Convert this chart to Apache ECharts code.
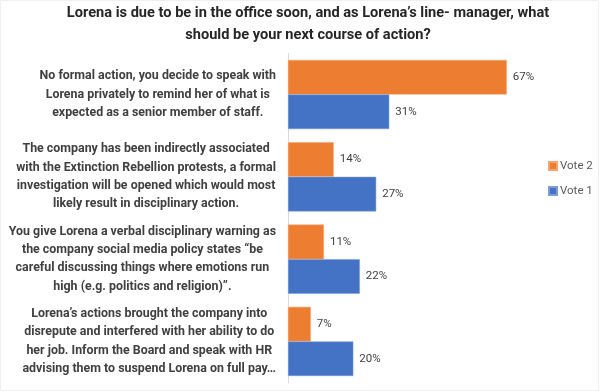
<!DOCTYPE html>
<html>
<head>
<meta charset="utf-8">
<script src="https://cdn.jsdelivr.net/npm/echarts@6/dist/echarts.min.js"></script>
<style>html,body{margin:0;padding:0;background:#fff;}#c{width:600px;height:392px;}</style>
</head>
<body>
<div id="c"></div>
<script>
const titleText = "Lorena is due to be in the office soon, and as Lorena\u2019s line- manager, what\nshould be your next course of action?";
const categories = [
  "No formal action, you decide to speak with\nLorena privately to remind her of what is\nexpected as a senior member of staff.",
  "The company has been indirectly associated\nwith the Extinction Rebellion protests, a formal\ninvestigation will be opened which would most\nlikely result in disciplinary action.",
  "You give Lorena a verbal disciplinary warning as\nthe company social media policy states \u201cbe\ncareful discussing things where emotions run\nhigh (e.g. politics and religion)\u201d.",
  "Lorena\u2019s actions brought the company into\ndisrepute and interfered with her ability to do\nher job. Inform the Board and speak with HR\nadvising them to suspend Lorena on full pay\u2026"
];
const seriesNames = ["Vote 2", "Vote 1"];
const vote2 = [67, 14, 11, 7];
const vote1 = [31, 27, 22, 20];

const FONT = "'Roboto', sans-serif";
const chart = echarts.init(document.getElementById('c'));
chart.setOption({
  animation: false,
  backgroundColor: '#ffffff',
  graphic: [{
    type: 'rect', silent: true, z: -1,
    shape: { x: 0.5, y: 0.5, width: 598, height: 390 },
    style: { fill: 'none', stroke: '#efefef', lineWidth: 1 }
  }],
  title: {
    text: titleText,
    left: 308,
    top: 1,
    textAlign: 'center',
    padding: [1, 0, 0, 0],
    textStyle: { fontFamily: FONT, fontSize: 14.6, fontWeight: 'bold', color: '#262626', lineHeight: 22 }
  },
  legend: {
    data: seriesNames,
    orient: 'vertical',
    left: 543,
    top: 155,
    itemWidth: 8,
    itemHeight: 8,
    itemGap: 13,
    icon: 'rect',
    textStyle: { fontFamily: FONT, fontSize: 11.5, color: '#595959', padding: [0, 0, 0, -2] }
  },
  grid: { left: 288, top: 53.4, width: 228.6, height: 329.2, containLabel: false },
  xAxis: {
    type: 'value', min: 0, max: 70, show: false,
    splitLine: { show: false }
  },
  yAxis: {
    type: 'category',
    data: categories,
    inverse: true,
    axisLine: { show: true, lineStyle: { color: '#d9d9d9', width: 1 } },
    axisTick: { show: false },
    axisLabel: {
      margin: 12,
      formatter: function (v) {
        return v.split('\n').map(function (l) { return '{c|' + l + '}'; }).join('\n');
      },
      rich: {
        c: { align: 'center', fontFamily: FONT, fontSize: 12.4, fontWeight: 'bold', color: '#404040', lineHeight: 18.3 }
      }
    }
  },
  series: [
    {
      name: seriesNames[0], type: 'bar', data: vote2,
      barGap: '0%', barCategoryGap: '16%',
      itemStyle: { color: '#ED7D31', borderColor: '#F4A46E', borderWidth: 0.5 },
      label: { show: true, position: 'right', distance: 6, formatter: '{c}%', fontFamily: FONT, fontSize: 11.5, color: '#404040' }
    },
    {
      name: seriesNames[1], type: 'bar', data: vote1,
      barGap: '0%', barCategoryGap: '16%',
      itemStyle: { color: '#4472C4', borderColor: '#7A9CD8', borderWidth: 0.5 },
      label: { show: true, position: 'right', distance: 6, formatter: '{c}%', fontFamily: FONT, fontSize: 11.5, color: '#404040' }
    }
  ]
});
</script>
</body>
</html>
